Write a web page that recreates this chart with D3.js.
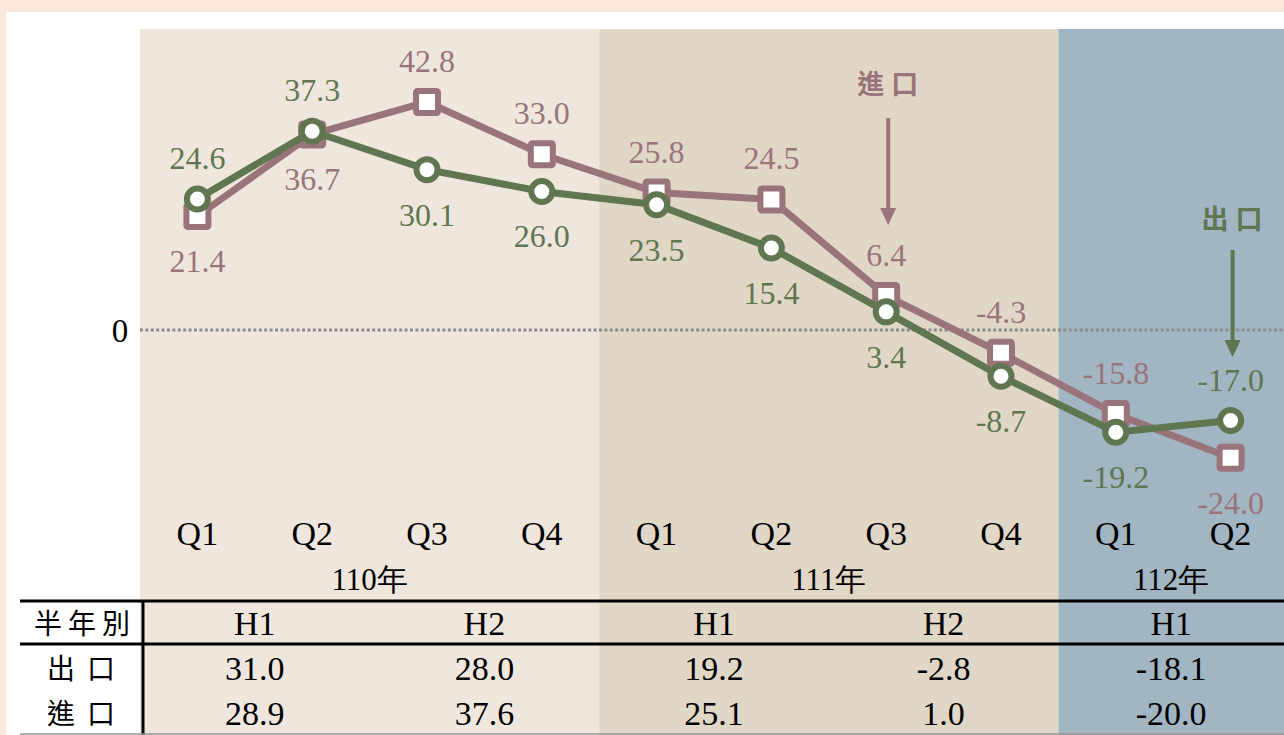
<!DOCTYPE html>
<html>
<head>
<meta charset="utf-8">
<script src="https://cdn.jsdelivr.net/npm/d3@7"></script>
<style>
  html, body { margin: 0; padding: 0; background: #fbe7db; }
  svg { display: block; }
</style>
</head>
<body>
<div id="chart"></div>
<script>
// quarterly growth (%), 110Q1 .. 112Q2
var quarters = ['Q1','Q2','Q3','Q4','Q1','Q2','Q3','Q4','Q1','Q2'];
var exportQ = [24.6, 37.3, 30.1, 26.0, 23.5, 15.4, 3.4, -8.7, -19.2, -17.0];
var importQ = [21.4, 36.7, 42.8, 33.0, 25.8, 24.5, 6.4, -4.3, -15.8, -24.0];

var years = ['110年', '111年', '112年'];
var yearQuarters = [4, 4, 2];

// half-year table
var halves = ['H1','H2','H1','H2','H1'];
var exportH = ['31.0','28.0','19.2','-2.8','-18.1'];
var importH = ['28.9','37.6','25.1','1.0','-20.0'];

var W = 1284, H = 735;
var colors = {
    exp: '#5f7650',
    imp: '#9a747b',
    bands: ['#efe7dd', '#e1d7c7', '#a2b5c2']
};
var serif = '"Liberation Serif", "Times New Roman", serif';
var cjk = '"Noto Sans CJK TC", "Noto Sans CJK SC", sans-serif';

var svg = d3.select('#chart').append('svg')
    .attr('width', W)
    .attr('height', H);

// white panel
svg.append('rect')
    .attr('x', 6).attr('y', 12)
    .attr('width', W - 6).attr('height', H - 12)
    .attr('fill', '#fff');

var x = d3.scaleBand()
    .domain(d3.range(quarters.length))
    .range([140, 1288])
    .padding(0);

var y = d3.scaleLinear()
    .domain([-24, 42.8])
    .range([457.8, 102]);

// year bands
var start = 0;
var yearSpans = years.map(function(name, i) {
    var s = start;
    start += yearQuarters[i];
    return { name: name, s: s, e: start - 1, i: i };
});

svg.selectAll('rect.band')
    .data(yearSpans)
    .enter().append('rect')
    .attr('class', 'band')
    .attr('x', d => x(d.s))
    .attr('y', 29)
    .attr('width', d => x(d.e) + x.bandwidth() - x(d.s))
    .attr('height', H - 29)
    .attr('fill', d => colors.bands[d.i]);

// zero line
svg.append('line')
    .attr('x1', x(0)).attr('x2', W)
    .attr('y1', y(0)).attr('y2', y(0))
    .attr('stroke', '#8c8c8c')
    .attr('stroke-width', 3)
    .attr('stroke-dasharray', '3,2.4');

svg.append('text')
    .attr('x', 120).attr('y', y(0) + 12)
    .attr('text-anchor', 'middle')
    .attr('font-family', serif).attr('font-size', 33)
    .text('0');

var cx = i => x(i) + x.bandwidth() / 2;

var line = d3.line()
    .x((d, i) => cx(i))
    .y(d => y(d));

// import line + squares
svg.append('path')
    .datum(importQ)
    .attr('d', line)
    .attr('fill', 'none')
    .attr('stroke', colors.imp)
    .attr('stroke-width', 7);

svg.selectAll('rect.imp')
    .data(importQ)
    .enter().append('rect')
    .attr('class', 'imp')
    .attr('x', (d, i) => cx(i) - 11)
    .attr('y', d => y(d) - 11)
    .attr('width', 22).attr('height', 22)
    .attr('rx', 1.5)
    .attr('fill', '#fff')
    .attr('stroke', colors.imp)
    .attr('stroke-width', 6);

// export line + circles
svg.append('path')
    .datum(exportQ)
    .attr('d', line)
    .attr('fill', 'none')
    .attr('stroke', colors.exp)
    .attr('stroke-width', 7);

svg.selectAll('circle.exp')
    .data(exportQ)
    .enter().append('circle')
    .attr('class', 'exp')
    .attr('cx', (d, i) => cx(i))
    .attr('cy', d => y(d))
    .attr('r', 10.5)
    .attr('fill', '#fff')
    .attr('stroke', colors.exp)
    .attr('stroke-width', 6);

// value labels: the higher series goes above, the lower below
function labelY(v, other) {
    return v >= other ? y(v) - 30 : y(v) + 56;
}

svg.selectAll('text.expl')
    .data(exportQ)
    .enter().append('text')
    .attr('class', 'expl')
    .attr('x', (d, i) => cx(i))
    .attr('y', (d, i) => labelY(d, importQ[i]))
    .attr('text-anchor', 'middle')
    .attr('font-family', serif).attr('font-size', 32)
    .attr('fill', colors.exp)
    .text(d => d.toFixed(1));

svg.selectAll('text.impl')
    .data(importQ)
    .enter().append('text')
    .attr('class', 'impl')
    .attr('x', (d, i) => cx(i))
    .attr('y', (d, i) => labelY(d, exportQ[i]))
    .attr('text-anchor', 'middle')
    .attr('font-family', serif).attr('font-size', 32)
    .attr('fill', colors.imp)
    .text(d => d.toFixed(1));

// arrow callouts
function callout(i, text, col, ty, y1, y2) {
    var ax = cx(i) + 2;
    svg.append('text')
        .attr('x', ax + 3).attr('y', ty)
        .attr('text-anchor', 'middle')
        .attr('font-family', cjk).attr('font-weight', 'bold')
        .attr('font-size', 27)
        .attr('letter-spacing', 7)
        .attr('fill', col)
        .text(text);
    svg.append('line')
        .attr('x1', ax).attr('x2', ax)
        .attr('y1', y1).attr('y2', y2 - 14)
        .attr('stroke', col)
        .attr('stroke-width', 4);
    svg.append('path')
        .attr('d', 'M' + (ax - 8) + ',' + (y2 - 17) + 'L' + (ax + 8) + ',' + (y2 - 17) + 'L' + ax + ',' + y2 + 'Z')
        .attr('fill', col);
}
callout(6, '進口', colors.imp, 94, 118, 225);
callout(9, '出口', colors.exp, 229, 250, 357);

// quarter labels
svg.selectAll('text.q')
    .data(quarters)
    .enter().append('text')
    .attr('class', 'q')
    .attr('x', (d, i) => cx(i))
    .attr('y', 545)
    .attr('text-anchor', 'middle')
    .attr('font-family', serif).attr('font-size', 34)
    .text(d => d);

// year labels
svg.selectAll('text.yr')
    .data(yearSpans)
    .enter().append('text')
    .attr('class', 'yr')
    .attr('x', d => (x(d.s) + Math.min(x(d.e) + x.bandwidth(), W)) / 2)
    .attr('y', 590)
    .attr('text-anchor', 'middle')
    .attr('font-family', serif).attr('font-size', 31)
    .text(d => d.name);

// half-year table
var halfX = i => x(i * 2) + x.bandwidth();
var cellX = i => Math.min(halfX(i), (x(i * 2) + W) / 2);

svg.selectAll('text.h')
    .data(halves)
    .enter().append('text')
    .attr('class', 'h')
    .attr('x', (d, i) => i < 4 ? halfX(i) : cellX(i))
    .attr('y', 635)
    .attr('text-anchor', 'middle')
    .attr('font-family', serif).attr('font-size', 34)
    .text(d => d);

[exportH, importH].forEach(function(row, r) {
    svg.selectAll('text.row' + r)
        .data(row)
        .enter().append('text')
        .attr('class', 'row' + r)
        .attr('x', (d, i) => i < 4 ? halfX(i) : cellX(i))
        .attr('y', 680 + r * 45)
        .attr('text-anchor', 'middle')
        .attr('font-family', serif).attr('font-size', 34)
        .text(d => d);
});

var rowLabels = ['半年別', '出口', '進口'];
svg.selectAll('text.rl')
    .data(rowLabels)
    .enter().append('text')
    .attr('class', 'rl')
    .attr('x', (d, i) => i === 0 ? 85 : 87)
    .attr('y', (d, i) => 634 + i * 45)
    .attr('text-anchor', 'middle')
    .attr('font-family', cjk).attr('font-size', 28)
    .attr('letter-spacing', (d, i) => i === 0 ? 6 : 12)
    .text(d => d);

// table rules
svg.append('line')
    .attr('x1', 20).attr('x2', W).attr('y1', 601).attr('y2', 601)
    .attr('stroke', '#000').attr('stroke-width', 3);
svg.append('line')
    .attr('x1', 20).attr('x2', W).attr('y1', 644).attr('y2', 644)
    .attr('stroke', '#000').attr('stroke-width', 3);
svg.append('line')
    .attr('x1', 143).attr('x2', 143).attr('y1', 600).attr('y2', H)
    .attr('stroke', '#000').attr('stroke-width', 3);
svg.append('line')
    .attr('x1', 20).attr('x2', W).attr('y1', H - 1).attr('y2', H - 1)
    .attr('stroke', '#999').attr('stroke-width', 1.5);
</script>
</body>
</html>
